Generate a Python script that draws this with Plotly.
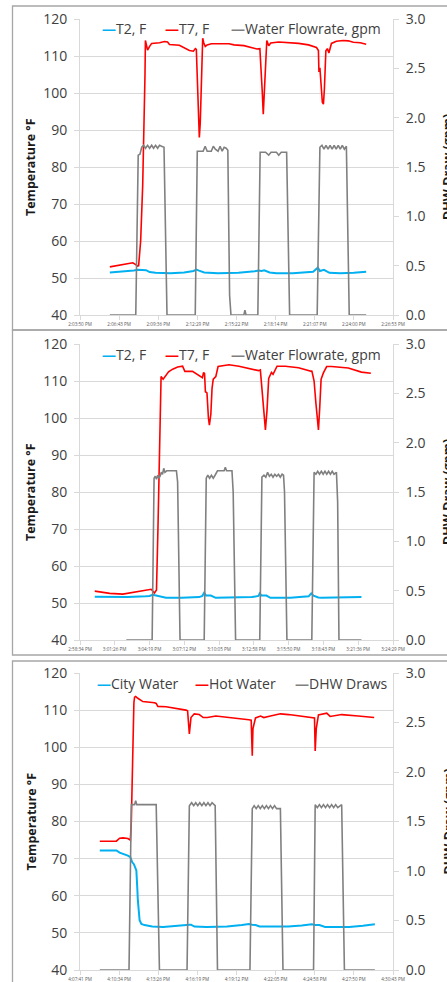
import pandas as pd
import plotly.graph_objects as go

# ---------------- DATA ----------------
# Each series: (minutes after the hour in *_base, value)
p1_base = "2020-01-01 14:00:00"
p1_names = ["T2, F", "T7, F", "Water Flowrate, gpm"]
p1_ticks = ["2:03:50 PM", "2:06:43 PM", "2:09:36 PM", "2:12:29 PM", "2:15:22 PM",
            "2:18:14 PM", "2:21:07 PM", "2:24:00 PM", "2:26:53 PM"]
p1_t2 = [(6.03, 51.5), (7.0, 51.7), (7.8, 52.0), (8.1, 52.2), (8.4, 52.1), (8.7, 52.1),
         (8.96, 51.6), (9.4, 51.4), (10.5, 51.3), (11.5, 51.5), (12.2, 51.9), (12.40, 52.3),
         (12.6, 52.0), (12.98, 51.5), (14.0, 51.3), (15.5, 51.4), (16.7, 51.8), (17.0, 52.0),
         (17.2, 51.9), (17.4, 52.1), (17.8, 51.5), (18.3, 51.3), (19.5, 51.3), (21.0, 51.7),
         (21.35, 52.8), (21.5, 51.9), (21.8, 52.2), (22.2, 51.4), (23.0, 51.3), (24.0, 51.4),
         (24.91, 51.7)]
p1_t7 = [(6.03, 53.0), (6.77, 53.4), (7.72, 54.1), (7.94, 53.6), (8.08, 53.2), (8.15, 53.3),
         (8.30, 60), (8.45, 75), (8.56, 90), (8.62, 105), (8.65, 114.2), (8.74, 112.5),
         (8.81, 111.6), (8.96, 112.6), (9.11, 113.4), (9.69, 113.6), (10.06, 113.9),
         (10.28, 113.8), (10.42, 113.1), (11.15, 112.9), (11.89, 111.5), (12.18, 111.3),
         (12.33, 112.0), (12.40, 111.8), (12.47, 105), (12.54, 95), (12.62, 88.0), (12.69, 92),
         (12.76, 104), (12.87, 114.8), (12.95, 113.5), (13.06, 112.6), (13.20, 113.0),
         (13.50, 113.3), (14.81, 113.3), (15.18, 113.0), (15.91, 112.8), (16.86, 111.9),
         (17.08, 112.0), (17.15, 108), (17.26, 100), (17.33, 94.3), (17.40, 100), (17.51, 112),
         (17.59, 114.2), (17.73, 112.8), (17.88, 113.5), (18.47, 113.8), (19.20, 113.7),
         (19.93, 113.4), (20.66, 113.0), (21.25, 112.3), (21.39, 111.5), (21.43, 105.7),
         (21.50, 106.8), (21.58, 102), (21.68, 97.5), (21.76, 97.0), (21.83, 101),
         (21.94, 111.4), (22.05, 112.0), (22.16, 110.8), (22.35, 113.4), (22.71, 114.0),
         (23.22, 114.2), (23.59, 114.1), (23.96, 113.7), (24.47, 113.6), (24.91, 113.2)]
p1_flow = [(6.03, 0), (7.94, 0), (8.12, 1.62), (8.25, 1.63), (8.38, 1.70), (8.52, 1.72),
           (8.66, 1.69), (8.81, 1.72), (8.96, 1.69), (9.11, 1.72), (9.25, 1.69), (9.40, 1.72),
           (9.55, 1.69), (9.69, 1.72), (9.84, 1.71), (10.02, 1.70), (10.24, 0), (12.32, 0),
           (12.47, 1.66), (12.90, 1.66), (13.05, 1.71), (13.20, 1.66), (13.50, 1.66),
           (13.65, 1.71), (13.80, 1.68), (14.00, 1.66), (14.15, 1.71), (14.30, 1.66),
           (14.45, 1.70), (14.60, 1.69), (14.72, 1.67), (14.85, 0.2), (14.95, 0), (15.90, 0),
           (15.98, 0.05), (16.06, 0), (16.93, 0), (17.10, 1.65), (17.50, 1.65), (17.73, 1.62),
           (17.90, 1.65), (18.30, 1.65), (18.47, 1.62), (18.65, 1.65), (19.05, 1.65),
           (19.27, 0), (21.30, 0), (21.50, 1.70), (21.65, 1.72), (21.80, 1.68), (21.95, 1.72),
           (22.10, 1.68), (22.25, 1.72), (22.40, 1.68), (22.55, 1.72), (22.70, 1.68),
           (22.85, 1.72), (23.00, 1.68), (23.15, 1.72), (23.30, 1.68), (23.45, 1.71),
           (23.66, 0), (24.91, 0)]

p2_base = "2020-01-01 15:00:00"
p2_names = ["T2, F", "T7, F", "Water Flowrate, gpm"]
p2_ticks = ["2:58:34 PM", "3:01:26 PM", "3:04:19 PM", "3:07:12 PM", "3:10:05 PM",
            "3:12:58 PM", "3:15:50 PM", "3:18:43 PM", "3:21:36 PM", "3:24:29 PM"]
p2_t2 = [(-0.21, 51.7), (1.0, 51.6), (2.5, 51.6), (4.0, 51.8), (4.32, 51.9), (4.59, 52.2),
         (4.9, 52.0), (5.14, 51.8), (5.69, 51.4), (7.0, 51.4), (8.43, 51.6), (8.70, 51.9),
         (8.85, 52.8), (9.0, 52.0), (9.4, 52.0), (9.8, 51.4), (11.0, 51.4), (12.8, 51.6),
         (13.35, 51.9), (13.45, 52.6), (13.6, 52.0), (14.0, 52.0), (14.33, 51.4), (16.0, 51.4),
         (17.5, 51.8), (17.71, 52.6), (17.9, 52.0), (18.3, 51.5), (18.56, 51.4), (20.0, 51.4),
         (21.0, 51.5), (21.87, 51.6)]
p2_t7 = [(-0.21, 53.2), (1.03, 52.6), (2.12, 52.4), (3.50, 53.2), (4.46, 53.7), (4.73, 52.7),
         (4.90, 53.5), (5.02, 70), (5.14, 90), (5.22, 105), (5.28, 111.2), (5.45, 110.5),
         (5.55, 111.0), (5.90, 112.5), (6.24, 113.2), (6.65, 113.8), (7.06, 114.0),
         (7.25, 112.6), (7.88, 112.6), (8.43, 111.5), (8.70, 110.9), (8.80, 112.3),
         (8.88, 112.0), (8.95, 107.1), (9.08, 106.8), (9.20, 100), (9.28, 98.1), (9.40, 101),
         (9.50, 108), (9.60, 110.5), (9.81, 111.2), (10.0, 113.9), (10.9, 114.4),
         (11.73, 114.0), (12.82, 113.3), (13.35, 112.8), (13.50, 113.0), (13.62, 108.5),
         (13.80, 100), (13.92, 96.8), (14.05, 102), (14.19, 110.7), (14.42, 112.3),
         (14.55, 111.8), (14.88, 114.0), (15.57, 114.0), (16.66, 113.6), (17.71, 112.6),
         (17.76, 112.8), (17.95, 110), (18.10, 104), (18.25, 97.5), (18.31, 96.8),
         (18.42, 103), (18.53, 110.5), (18.72, 112.2), (18.99, 113.9), (19.40, 113.9),
         (20.78, 113.5), (21.87, 112.4), (22.65, 112.1)]
p2_flow = [(2.40, 0), (4.54, 0), (4.70, 1.64), (4.80, 1.66), (4.90, 1.63), (5.00, 1.67),
           (5.10, 1.64), (5.20, 1.66), (5.30, 1.70), (5.40, 1.68), (5.50, 1.74), (5.60, 1.70),
           (5.75, 1.715), (6.55, 1.715), (6.65, 1.6), (6.85, 0), (8.85, 0), (9.02, 1.64),
           (9.15, 1.67), (9.30, 1.64), (9.45, 1.67), (9.60, 1.64), (9.75, 1.67), (9.85, 1.70),
           (9.95, 1.715), (10.5, 1.715), (10.6, 1.75), (10.7, 1.715), (11.15, 1.715),
           (11.25, 1.5), (11.45, 0), (13.45, 0), (13.63, 1.65), (13.8, 1.67), (13.95, 1.65),
           (14.1, 1.70), (14.25, 1.66), (14.4, 1.68), (14.55, 1.65), (14.7, 1.68),
           (14.85, 1.66), (15.0, 1.68), (15.15, 1.65), (15.3, 1.68), (15.42, 1.67),
           (15.5, 1.5), (15.70, 0), (17.76, 0), (17.95, 1.70), (18.1, 1.68), (18.25, 1.71),
           (18.4, 1.68), (18.55, 1.71), (18.7, 1.68), (18.85, 1.71), (19.0, 1.68),
           (19.15, 1.71), (19.3, 1.68), (19.45, 1.71), (19.6, 1.68), (19.8, 1.70),
           (19.9, 1.4), (20.01, 0), (21.87, 0)]

p3_base = "2020-01-01 16:00:00"
p3_names = ["City Water", "Hot Water", "DHW Draws"]
p3_ticks = ["4:07:41 PM", "4:10:34 PM", "4:13:26 PM", "4:16:19 PM", "4:19:12 PM",
            "4:22:05 PM", "4:24:58 PM", "4:27:50 PM", "4:30:43 PM"]
p3_t2 = [(9.14, 72.2), (10.36, 72.2), (10.6, 71.6), (10.85, 71.3), (11.2, 70.8), (11.39, 70.4),
         (11.53, 69.0), (11.65, 68.5), (11.83, 66.8), (11.90, 62), (11.94, 58.8), (12.07, 53.4),
         (12.20, 52.4), (12.43, 52.1), (13.0, 51.7), (13.8, 51.6), (14.6, 51.9), (15.48, 52.3),
         (15.73, 52.2), (15.85, 52.2), (16.1, 51.7), (17.0, 51.6), (18.5, 51.7), (19.6, 52.1),
         (20.11, 52.4), (20.36, 52.2), (20.6, 52.1), (20.9, 51.7), (22.0, 51.6), (23.0, 51.7),
         (24.0, 52.0), (24.74, 52.3), (25.0, 52.1), (25.3, 52.1), (25.72, 51.6), (26.5, 51.6),
         (27.5, 51.6), (28.5, 51.9), (29.38, 52.3)]
p3_t7 = [(9.14, 74.7), (10.36, 74.7), (10.60, 75.5), (10.85, 75.6), (11.20, 75.4),
         (11.39, 75.0), (11.46, 80), (11.55, 100), (11.65, 112), (11.70, 113.5),
         (11.78, 113.7), (11.94, 113.2), (12.31, 112.3), (13.17, 112.0), (13.29, 111.8),
         (13.41, 111.0), (14.02, 110.9), (15.48, 110.0), (15.60, 109.8), (15.73, 103.6),
         (15.85, 108.0), (16.09, 109.0), (16.46, 108.8), (16.75, 108.0), (17.06, 108.0),
         (17.68, 108.4), (18.89, 108.0), (20.11, 107.4), (20.28, 107.3), (20.36, 97.7),
         (20.41, 105), (20.60, 107.9), (20.97, 108.4), (21.21, 108.0), (21.70, 108.4),
         (22.43, 109.0), (23.04, 108.8), (23.77, 108.4), (24.74, 108.0), (24.94, 107.9),
         (24.99, 99.0), (25.07, 105), (25.23, 108.7), (25.84, 109.2), (26.09, 108.3),
         (26.94, 108.8), (28.16, 108.4), (29.33, 108.0)]
p3_flow = [(9.14, 0), (11.29, 0), (11.46, 1.67), (11.70, 1.67), (11.78, 1.71), (11.86, 1.67),
           (13.29, 1.67), (13.53, 0), (15.56, 0), (15.73, 1.66), (15.90, 1.69), (16.05, 1.66),
           (16.20, 1.69), (16.35, 1.66), (16.50, 1.69), (16.65, 1.66), (16.80, 1.69),
           (16.95, 1.66), (17.10, 1.69), (17.25, 1.66), (17.40, 1.69), (17.63, 1.66),
           (17.80, 0), (20.19, 0), (20.36, 1.63), (20.50, 1.66), (20.65, 1.63), (20.80, 1.66),
           (20.95, 1.63), (21.10, 1.66), (21.25, 1.63), (21.40, 1.66), (21.55, 1.63),
           (21.70, 1.66), (21.85, 1.63), (22.00, 1.66), (22.15, 1.63), (22.43, 1.63),
           (22.62, 0), (24.87, 0), (24.99, 1.67), (25.15, 1.64), (25.30, 1.67), (25.45, 1.64),
           (25.60, 1.67), (25.75, 1.64), (25.90, 1.67), (26.05, 1.64), (26.20, 1.67),
           (26.35, 1.64), (26.50, 1.67), (26.65, 1.64), (26.94, 1.67), (27.14, 0), (29.38, 0)]

temp_ticks = [40, 50, 60, 70, 80, 90, 100, 110, 120]
flow_ticks = [0.0, 0.5, 1.0, 1.5, 2.0, 2.5, 3.0]

# ---------------- STYLE / LAYOUT ----------------
W, H = 447, 982
BLUE, RED, GRAY = "#00B0F0", "#FF0000", "#808080"
GRID = "#D9D9D9"
TXT = "#404040"
FONT = "Open Sans"


def px(x):
    return x / W


def py(y):
    return 1 - y / H


def to_time(base, mins):
    return [pd.Timestamp(base) + pd.to_timedelta(m, unit="min") for m in mins]


panels = [
    dict(base=p1_base, names=p1_names, ticks=p1_ticks, t2=p1_t2, t7=p1_t7, flow=p1_flow,
         top=19, bottom=315, legx=[100, 163, 229], box=(6, 330)),
    dict(base=p2_base, names=p2_names, ticks=p2_ticks, t2=p2_t2, t7=p2_t7, flow=p2_flow,
         top=344, bottom=640, legx=[100, 163, 229], box=(330, 655)),
    dict(base=p3_base, names=p3_names, ticks=p3_ticks, t2=p3_t2, t7=p3_t7, flow=p3_flow,
         top=673, bottom=970, legx=[95, 193, 293], box=(661, 1000)),
]

fig = go.Figure()
layout = {}
annotations = []
shapes = []
X0, X1 = 80, 393

for i, p in enumerate(panels):
    xa = "x" if i == 0 else f"x{i + 1}"
    ya = "y" if i == 0 else f"y{2 * i + 1}"
    ya2 = f"y{2 * i + 2}"
    date = p["base"][:10]
    tickvals = [pd.to_datetime(date + " " + t, format="%Y-%m-%d %I:%M:%S %p") for t in p["ticks"]]

    for series, color, yax, width, name in [
        (p["t2"], BLUE, ya, 2.0, p["names"][0]),
        (p["t7"], RED, ya, 1.6, p["names"][1]),
        (p["flow"], GRAY, ya2, 1.6, p["names"][2]),
    ]:
        mins = [s[0] for s in series]
        vals = [s[1] for s in series]
        fig.add_trace(go.Scatter(x=to_time(p["base"], mins), y=vals, mode="lines",
                                 name=name, line=dict(color=color, width=width),
                                 xaxis=xa, yaxis=yax, showlegend=False))

    xkey = "xaxis" if i == 0 else f"xaxis{i + 1}"
    ykey = "yaxis" if i == 0 else f"yaxis{2 * i + 1}"
    y2key = f"yaxis{2 * i + 2}"
    dom_y = [py(p["bottom"]), py(p["top"])]
    layout[xkey] = dict(domain=[px(X0), px(X1)], anchor=ya, type="date",
                        range=[tickvals[0], tickvals[-1]], tickmode="array",
                        tickvals=tickvals, ticktext=p["ticks"], tickangle=0,
                        tickfont=dict(family=FONT, size=4.6, color="#595959"),
                        showgrid=False, showline=True, linecolor=GRID, linewidth=1,
                        ticks="outside", ticklen=4, tickcolor=GRID, zeroline=False,
                        automargin=False)
    layout[ykey] = dict(domain=dom_y, anchor=xa, range=[40, 120], tickmode="array",
                        tickvals=temp_ticks, tickfont=dict(family=FONT, size=14, color=TXT),
                        showgrid=True, gridcolor=GRID, gridwidth=1, showline=True,
                        linecolor=GRID, ticks="outside", ticklen=5, tickcolor=GRID,
                        zeroline=False, automargin=False, ticklabelstandoff=4)
    layout[y2key] = dict(domain=dom_y, anchor=xa, overlaying=ya, side="right",
                         range=[0, 3], tickmode="array", tickvals=flow_ticks,
                         tickformat=".1f", tickfont=dict(family=FONT, size=14, color=TXT),
                         showgrid=False, showline=True, linecolor=GRID, ticks="outside",
                         ticklen=5, tickcolor=GRID, zeroline=False, automargin=False,
                         ticklabelstandoff=4)

    ymid = (p["top"] + p["bottom"]) / 2
    annotations.append(dict(text="<b>Temperature °F</b>", x=px(31), y=py(ymid),
                            xref="paper", yref="paper", textangle=-90, showarrow=False,
                            xanchor="center", yanchor="middle",
                            font=dict(family=FONT, size=12.5, color="#1a1a1a")))
    annotations.append(dict(text="<b>DHW Draw (gpm)</b>", x=px(448), y=py(ymid),
                            xref="paper", yref="paper", textangle=-90, showarrow=False,
                            xanchor="center", yanchor="middle",
                            font=dict(family=FONT, size=12.5, color="#1a1a1a")))
    for lx, color, name in zip(p["legx"], [BLUE, RED, GRAY], p["names"]):
        annotations.append(dict(text=f'<span style="color:{color}"><b>—</b></span>{name}',
                                x=px(lx), y=py(p["top"] + 10), xref="paper", yref="paper",
                                xanchor="left", yanchor="middle", showarrow=False,
                                font=dict(family=FONT, size=14, color=TXT)))
    b0, b1 = p["box"]
    shapes.append(dict(type="rect", xref="paper", yref="paper", x0=px(12.5), x1=px(470),
                       y0=py(b1), y1=py(b0), line=dict(color="#A6A6A6", width=1.3),
                       fillcolor="rgba(0,0,0,0)", layer="below"))

fig.update_layout(**layout)
fig.update_layout(width=W, height=H, margin=dict(l=0, r=0, t=0, b=0),
                  paper_bgcolor="white", plot_bgcolor="white", template="none",
                  annotations=annotations, shapes=shapes, showlegend=False,
                  font=dict(family=FONT, color=TXT))

fig.write_html("out.html", config={"displayModeBar": False},
               post_script="document.body.style.margin='0';document.body.style.overflow='hidden';")
